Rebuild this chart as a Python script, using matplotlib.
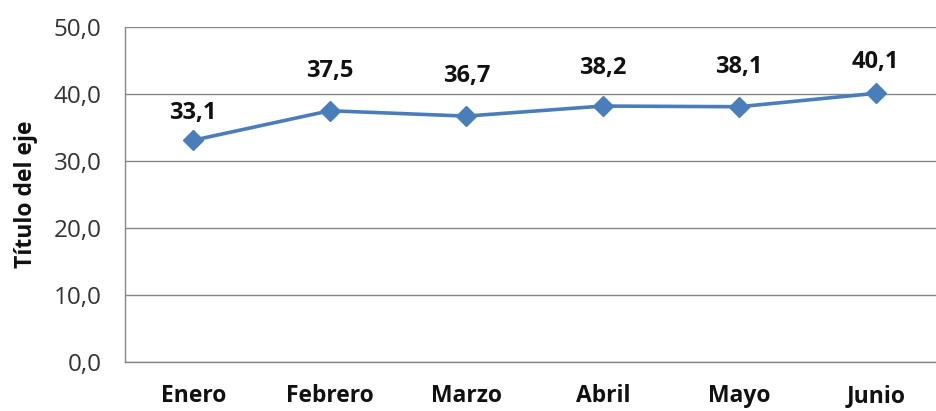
import matplotlib
matplotlib.use('Agg')
import matplotlib.pyplot as plt

meses = ['Enero', 'Febrero', 'Marzo', 'Abril', 'Mayo', 'Junio']
valores = [33.1, 37.5, 36.7, 38.2, 38.1, 40.1]
yticks = [0, 10, 20, 30, 40, 50]
# separación vertical de cada etiqueta (puntos), como en el original
desplaz = [11, 20, 20, 19, 20, 14]

plt.rcParams['font.family'] = ['Open Sans', 'DejaVu Sans']

fig = plt.figure(figsize=(9.36, 4.11), dpi=100)
ax = fig.add_axes([125 / 936, 49 / 411, 819 / 936, 335 / 411])

x = list(range(len(meses)))
ax.plot(x, valores, color='#4A7EBB', lw=2.6, marker='D', markersize=10.5,
        markerfacecolor='#4A7EBB', markeredgecolor='#4A7EBB', zorder=3)

for xi, v, d in zip(x, valores, desplaz):
    ax.annotate(f'{v:.1f}'.replace('.', ','), (xi, v), xytext=(0, d),
                textcoords='offset points', ha='center', va='bottom',
                fontsize=17, fontweight='bold', color='#111111')

ax.set_xlim(-0.5, 5.5)
ax.set_ylim(0, 50)
ax.set_yticks(yticks)
ax.set_yticklabels([f'{t:.1f}'.replace('.', ',') for t in yticks], fontsize=17.5, color='#333333')
ax.set_xticks(x)
ax.set_xticklabels(meses, fontsize=16.5, fontweight='bold', color='#111111')
ax.tick_params(axis='both', length=0)
ax.tick_params(axis='y', pad=17)
ax.tick_params(axis='x', pad=16)

ax.grid(axis='y', color='#868686', lw=1)
ax.set_axisbelow(True)
for s in ['top', 'right']:
    ax.spines[s].set_visible(False)
for s in ['left', 'bottom']:
    ax.spines[s].set_color('#868686')
    ax.spines[s].set_linewidth(1)

ax.set_ylabel('Título del eje', fontsize=16.5, fontweight='bold', color='#111111')
ax.yaxis.set_label_coords(-0.106, 0.5)

fig.savefig('out.png', dpi=100)
